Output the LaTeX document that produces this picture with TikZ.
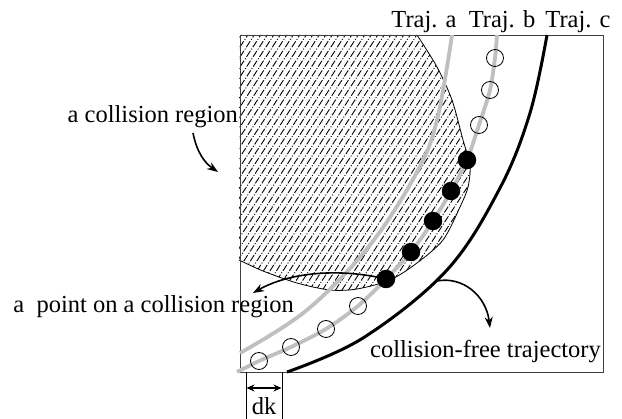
\documentclass[tikz,border=0pt]{standalone}
\usepackage{fontspec}
\setmainfont{Liberation Serif}
\usetikzlibrary{arrows.meta}
\tikzset{
  lbl/.style={font=\fontsize{24.5}{28}\selectfont, inner sep=0pt},
  trajgray/.style={line width=3.8pt, color=black!25},
  trajblack/.style={line width=3pt, color=black},
  hatchline/.style={line width=0.9pt, dash pattern=on 7pt off 1.8pt on 1pt off 1.8pt},
  arr/.style={line width=1.6pt, -{Stealth[length=11pt,width=8pt]}},
  opendot/.style={circle, draw, line width=0.8pt, minimum size=17pt, inner sep=0pt},
  blackdot/.style={circle, fill=black, minimum size=18.5pt, inner sep=0pt},
}
\begin{document}
\begin{tikzpicture}[x=1pt,y=-1pt]
\useasboundingbox (0,0) rectangle (622,419);
% collision region (hatched)
\begin{scope}
  \clip (239,35) -- plot[smooth] coordinates {(417,35) (437,67) (452,100) (463,140) (470,165) (468,187) (460,207) (443,240) (417,263) (390,280) (357,289) (330,290) (297,283) (263,271) (239,260)} -- cycle;
  \foreach \i in {30,36.5,...,540} \draw[hatchline] (\i,300) -- ++(195,-300);
\end{scope}
\draw[line width=0.8pt] (417,35) -- plot[smooth] coordinates {(417,35) (437,67) (452,100) (463,140) (470,165) (468,187) (460,207) (443,240) (417,263) (390,280) (357,289) (330,290) (297,283) (263,271) (239,260)};
% box
\node[draw=black!75, line width=1.1pt, inner sep=0pt, minimum width=363pt, minimum height=337pt, anchor=north west] (box) at (239.5,35) {};
% trajectories
\draw[trajgray] plot[smooth, tension=0.6] coordinates {(452,35) (437,120) (417,172) (370,245) (307,310) (240,353)};
\draw[trajgray] plot[smooth] coordinates {(497,35) (495,58) (490,90) (479,125) (467,160) (451,191) (433,221) (411,252) (386,279) (358,306) (326,329) (291,347) (259,361) (237,372)};
\draw[trajblack] plot[smooth, tension=0.6] coordinates {(547,35) (530,113) (500,188) (447,270) (363,338) (287,372)};
% points on Traj. b
\foreach \n/\p in {o1/{(495,58)}, o2/{(490,90)}, o3/{(479,125)}, o4/{(358,306)}, o5/{(326,329)}, o6/{(291,347)}, o7/{(259,361)}}
  \node[opendot] (\n) at \p {};
\foreach \n/\p in {d1/{(467,160)}, d2/{(451,191)}, d3/{(433,221)}, d4/{(411,252)}, d5/{(386,279)}}
  \node[blackdot] (\n) at \p {};
% labels
\node[lbl, anchor=base] (ta) at (424,28) {Traj. a};
\node[lbl, anchor=base] (tb) at (502,28) {Traj. b};
\node[lbl, anchor=base] (tc) at (578,28) {Traj. c};
\node[lbl, anchor=base east] (cr) at (238,123) {a collision region};
\node[lbl, anchor=base east] (pcr) at (294,313) {a\hspace{0.5em}point on a collision region};
\node[lbl, anchor=base east] (cft) at (601,358) {collision-free trajectory};
\node[lbl, anchor=base] (dk) at (264,415) {dk};
% arrows
\coordinate (a1s) at (193,133);
\coordinate (a1e) at (218,172);
\draw[arr] (a1s) .. controls (197,153) and (205,163) .. (a1e);
\coordinate (a2e) at (253,293);
\draw[arr] (d5.center) .. controls (340,268) and (290,272) .. (a2e);
\coordinate (a3s) at (437,281);
\coordinate (a3e) at (490,328);
\draw[arr] (a3s) .. controls (462,276) and (486,295) .. (a3e);
% dk
\coordinate (k1) at (246,372);
\coordinate (k2) at (282,372);
\draw[line width=0.9pt] (k1) -- (246,419);
\draw[line width=0.9pt] (k2) -- (282,419);
\draw[line width=2pt, {Stealth[length=8pt,width=7pt]}-{Stealth[length=8pt,width=7pt]}] (246.5,388) -- (281.5,388);
\end{tikzpicture}
\end{document}
